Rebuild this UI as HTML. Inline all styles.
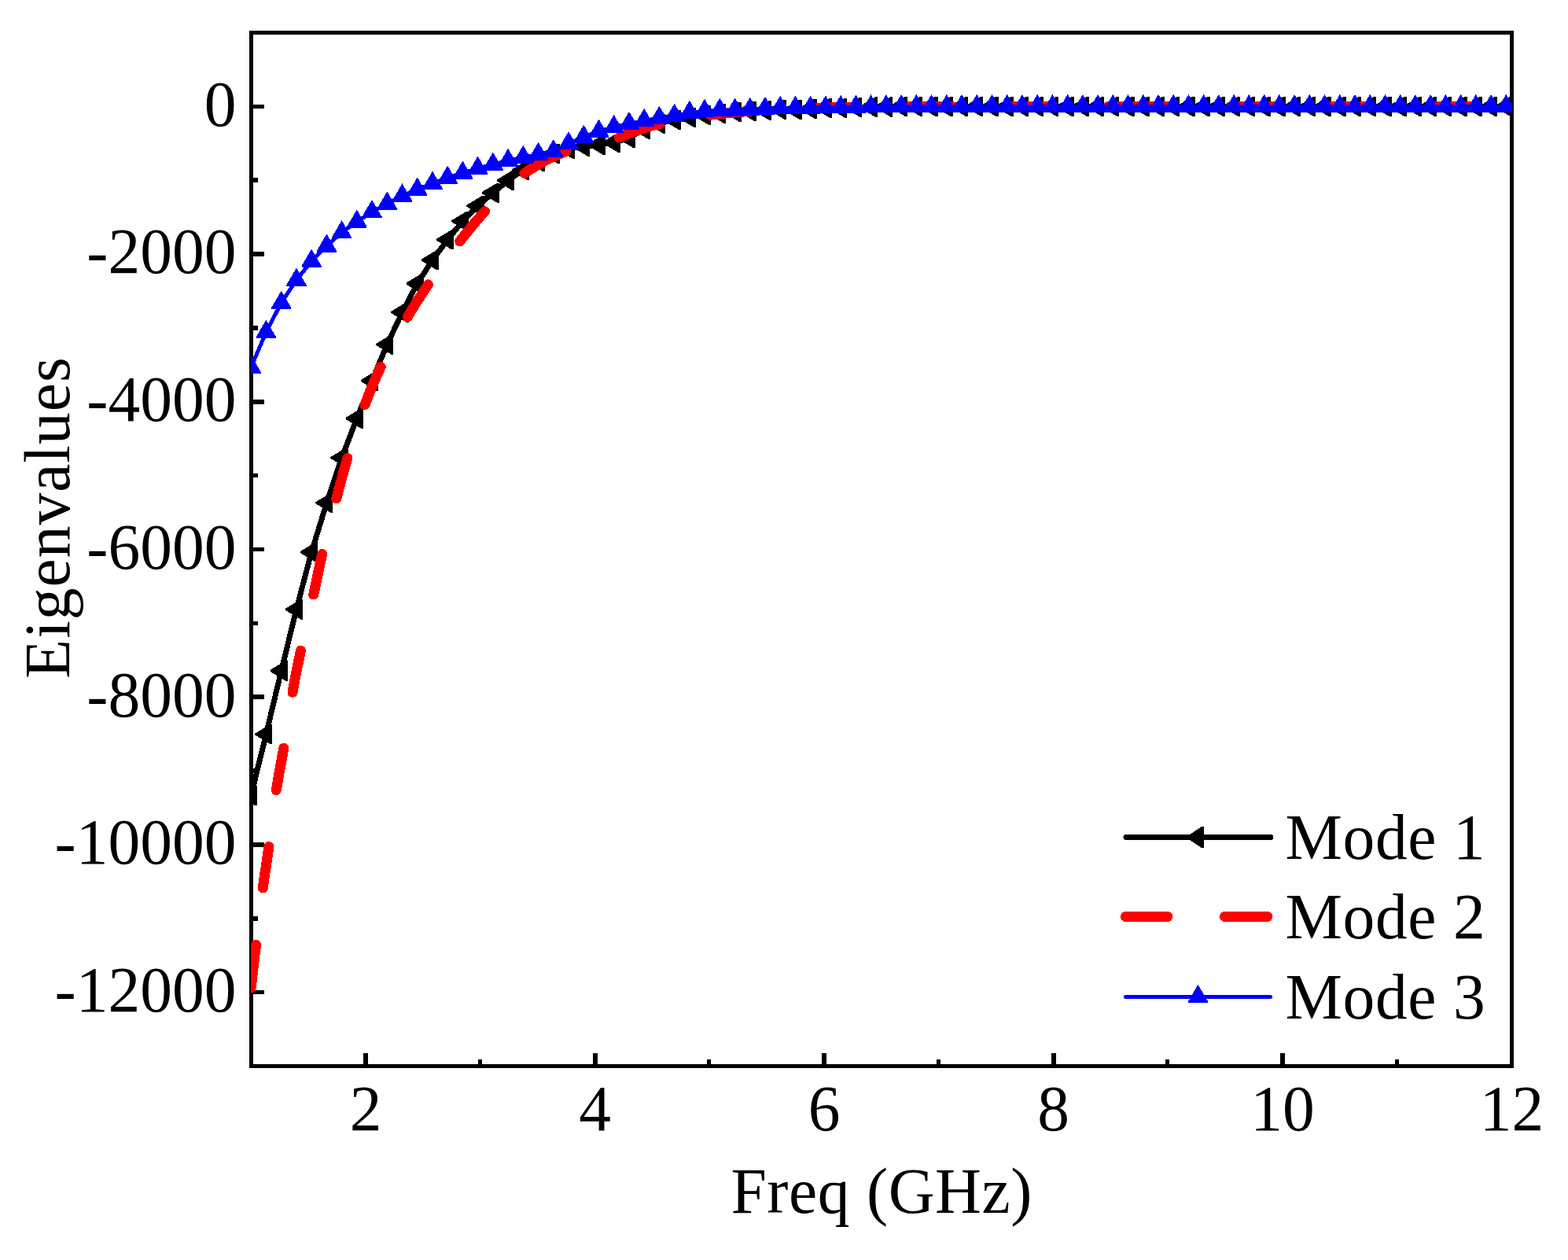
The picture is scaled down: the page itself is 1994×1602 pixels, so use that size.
<!DOCTYPE html>
<html lang="en"><head><meta charset="utf-8"><title>Eigenvalues vs Freq (GHz)</title>
<style>
html,body{margin:0;padding:0;background:#fff;}
body{width:1994px;height:1602px;overflow:hidden;}
svg{display:block;}
text{font-family:"Liberation Serif","Times New Roman",serif;font-size:81.5px;fill:#000;}
.sh{shape-rendering:crispEdges;}
</style></head><body>
<svg width="1994" height="1602" viewBox="0 0 1994 1602">
<rect width="1994" height="1602" fill="#fff"/>
<defs>
<clipPath id="cp"><rect x="319" y="39" width="1604" height="1319"/></clipPath>
</defs>

<g class="sh" fill="#000">
<rect x="317" y="39" width="1608" height="5"/><rect x="317" y="1353" width="1608" height="5"/>
<rect x="317" y="39" width="5" height="1319"/><rect x="1920" y="39" width="5" height="1319"/>
<rect x="322" y="132.61" width="14" height="5.5"/>
<rect x="322" y="320.32" width="14" height="5.5"/>
<rect x="322" y="508.04" width="14" height="5.5"/>
<rect x="322" y="695.75" width="14" height="5.5"/>
<rect x="322" y="883.46" width="14" height="5.5"/>
<rect x="322" y="1071.18" width="14" height="5.5"/>
<rect x="322" y="1258.89" width="14" height="5.5"/>
<rect x="322" y="226.46" width="6" height="5.5"/>
<rect x="322" y="414.18" width="6" height="5.5"/>
<rect x="322" y="601.89" width="6" height="5.5"/>
<rect x="322" y="789.61" width="6" height="5.5"/>
<rect x="322" y="977.32" width="6" height="5.5"/>
<rect x="322" y="1165.04" width="6" height="5.5"/>
<rect x="462" y="1339" width="6" height="14"/>
<rect x="754" y="1339" width="6" height="14"/>
<rect x="1045" y="1339" width="6" height="14"/>
<rect x="1337" y="1339" width="6" height="14"/>
<rect x="1628" y="1339" width="6" height="14"/>
<rect x="608" y="1347" width="5" height="6"/>
<rect x="899" y="1347" width="5" height="6"/>
<rect x="1191" y="1347" width="5" height="6"/>
<rect x="1482" y="1347" width="5" height="6"/>
<rect x="1774" y="1347" width="5" height="6"/>
</g>
<g text-anchor="end">
<text x="300.4" y="159.7">0</text>
<text x="300.4" y="347.4">-2000</text>
<text x="300.4" y="535.1">-4000</text>
<text x="300.4" y="722.8">-6000</text>
<text x="300.4" y="910.5">-8000</text>
<text x="300.4" y="1098.2">-10000</text>
<text x="300.4" y="1285.9">-12000</text>
</g>
<g text-anchor="middle">
<text x="465.2" y="1436.6">2</text>
<text x="756.7" y="1436.6">4</text>
<text x="1048.1" y="1436.6">6</text>
<text x="1339.6" y="1436.6">8</text>
<text x="1631.0" y="1436.6">10</text>
<text x="1922.5" y="1436.6">12</text>
<text x="1121.2" y="1541.9" letter-spacing="0.55">Freq (GHz)</text>
<text transform="translate(87.6,658.0) rotate(-90)" letter-spacing="1.0">Eigenvalues</text>
</g>
<g clip-path="url(#cp)" class="sh">
<polyline points="319.2,1011.7 338.4,933.5 357.7,852.8 376.9,774.8 396.1,702.0 415.4,639.3 434.6,582.0 453.8,532.0 473.0,484.0 492.3,438.0 511.5,397.0 530.7,360.6 550.0,330.6 569.2,304.7 588.4,281.2 607.6,261.7 626.9,245.2 646.1,229.4 665.3,216.2 684.6,205.1 703.8,195.2 723.0,189.2 742.3,186.2 761.5,184.0 780.7,181.2 800.0,175.3 819.2,164.3 838.4,157.2 857.6,152.2 876.9,149.2 896.1,146.2 915.3,144.2 934.6,142.2 953.8,141.2 973.0,140.2 992.2,139.2 1011.5,139.2 1030.7,138.2 1049.9,137.2 1069.2,137.2 1088.4,136.2 1107.6,136.0 1126.9,135.8 1146.1,135.4 1165.3,135.4 1184.5,135.4 1203.8,135.4 1223.0,135.4 1242.2,135.4 1261.5,135.4 1280.7,135.4 1299.9,135.4 1319.2,135.4 1338.4,135.4 1357.6,135.4 1376.9,135.4 1396.1,135.4 1415.3,135.4 1434.5,135.4 1453.8,135.4 1473.0,135.4 1492.2,135.4 1511.5,135.4 1530.7,135.4 1549.9,135.4 1569.2,135.4 1588.4,135.4 1607.6,135.4 1626.8,135.4 1646.1,135.4 1665.3,135.4 1684.5,135.4 1703.8,135.4 1723.0,135.4 1742.2,135.4 1761.5,135.4 1780.7,135.4 1799.9,135.4 1819.1,135.4 1838.4,135.4 1857.6,135.4 1876.8,135.4 1896.1,135.4 1915.3,135.4" fill="none" stroke="#000" stroke-width="7" stroke-linejoin="round" stroke-linecap="round"/>
<g fill="#000"><polygon points="305.0,1010.7 305.0,1012.7 324.5,1024.4 327.2,1024.4 327.2,999.0 324.5,999.0"/>
<polygon points="324.2,932.5 324.2,934.5 343.7,946.2 346.4,946.2 346.4,920.8 343.7,920.8"/>
<polygon points="343.5,851.8 343.5,853.8 363.0,865.5 365.7,865.5 365.7,840.1 363.0,840.1"/>
<polygon points="362.7,773.8 362.7,775.8 382.2,787.5 384.9,787.5 384.9,762.1 382.2,762.1"/>
<polygon points="381.9,701.0 381.9,703.0 401.4,714.7 404.1,714.7 404.1,689.3 401.4,689.3"/>
<polygon points="401.2,638.3 401.2,640.3 420.7,652.0 423.4,652.0 423.4,626.6 420.7,626.6"/>
<polygon points="420.4,581.0 420.4,583.0 439.9,594.7 442.6,594.7 442.6,569.3 439.9,569.3"/>
<polygon points="439.6,531.0 439.6,533.0 459.1,544.7 461.8,544.7 461.8,519.3 459.1,519.3"/>
<polygon points="458.8,483.0 458.8,485.0 478.3,496.7 481.0,496.7 481.0,471.3 478.3,471.3"/>
<polygon points="478.1,437.0 478.1,439.0 497.6,450.7 500.3,450.7 500.3,425.3 497.6,425.3"/>
<polygon points="497.3,396.0 497.3,398.0 516.8,409.7 519.5,409.7 519.5,384.3 516.8,384.3"/>
<polygon points="516.5,359.6 516.5,361.6 536.0,373.3 538.7,373.3 538.7,347.9 536.0,347.9"/>
<polygon points="535.8,329.6 535.8,331.6 555.3,343.3 558.0,343.3 558.0,317.9 555.3,317.9"/>
<polygon points="555.0,303.7 555.0,305.7 574.5,317.4 577.2,317.4 577.2,292.0 574.5,292.0"/>
<polygon points="574.2,280.2 574.2,282.2 593.7,293.9 596.4,293.9 596.4,268.5 593.7,268.5"/>
<polygon points="593.4,260.7 593.4,262.7 612.9,274.4 615.6,274.4 615.6,249.0 612.9,249.0"/>
<polygon points="612.7,244.2 612.7,246.2 632.2,257.9 634.9,257.9 634.9,232.5 632.2,232.5"/>
<polygon points="631.9,228.4 631.9,230.4 651.4,242.1 654.1,242.1 654.1,216.7 651.4,216.7"/>
<polygon points="651.1,215.2 651.1,217.2 670.6,228.9 673.3,228.9 673.3,203.5 670.6,203.5"/>
<polygon points="670.4,204.1 670.4,206.1 689.9,217.8 692.6,217.8 692.6,192.4 689.9,192.4"/>
<polygon points="689.6,194.2 689.6,196.2 709.1,207.9 711.8,207.9 711.8,182.5 709.1,182.5"/>
<polygon points="708.8,188.2 708.8,190.2 728.3,201.9 731.0,201.9 731.0,176.5 728.3,176.5"/>
<polygon points="728.1,185.2 728.1,187.2 747.6,198.9 750.3,198.9 750.3,173.5 747.6,173.5"/>
<polygon points="747.3,183.0 747.3,185.0 766.8,196.7 769.5,196.7 769.5,171.3 766.8,171.3"/>
<polygon points="766.5,180.2 766.5,182.2 786.0,193.9 788.7,193.9 788.7,168.5 786.0,168.5"/>
<polygon points="785.8,174.3 785.8,176.3 805.2,188.0 808.0,188.0 808.0,162.6 805.2,162.6"/>
<polygon points="805.0,163.3 805.0,165.3 824.5,177.0 827.2,177.0 827.2,151.6 824.5,151.6"/>
<polygon points="824.2,156.2 824.2,158.2 843.7,169.9 846.4,169.9 846.4,144.5 843.7,144.5"/>
<polygon points="843.4,151.2 843.4,153.2 862.9,164.9 865.6,164.9 865.6,139.5 862.9,139.5"/>
<polygon points="862.7,148.2 862.7,150.2 882.2,161.9 884.9,161.9 884.9,136.5 882.2,136.5"/>
<polygon points="881.9,145.2 881.9,147.2 901.4,158.9 904.1,158.9 904.1,133.5 901.4,133.5"/>
<polygon points="901.1,143.2 901.1,145.2 920.6,156.9 923.3,156.9 923.3,131.5 920.6,131.5"/>
<polygon points="920.4,141.2 920.4,143.2 939.9,154.9 942.6,154.9 942.6,129.5 939.9,129.5"/>
<polygon points="939.6,140.2 939.6,142.2 959.1,153.9 961.8,153.9 961.8,128.5 959.1,128.5"/>
<polygon points="958.8,139.2 958.8,141.2 978.3,152.9 981.0,152.9 981.0,127.5 978.3,127.5"/>
<polygon points="978.0,138.2 978.0,140.2 997.5,151.9 1000.2,151.9 1000.2,126.5 997.5,126.5"/>
<polygon points="997.3,138.2 997.3,140.2 1016.8,151.9 1019.5,151.9 1019.5,126.5 1016.8,126.5"/>
<polygon points="1016.5,137.2 1016.5,139.2 1036.0,150.9 1038.7,150.9 1038.7,125.5 1036.0,125.5"/>
<polygon points="1035.7,136.2 1035.7,138.2 1055.2,149.9 1057.9,149.9 1057.9,124.5 1055.2,124.5"/>
<polygon points="1055.0,136.2 1055.0,138.2 1074.5,149.9 1077.2,149.9 1077.2,124.5 1074.5,124.5"/>
<polygon points="1074.2,135.2 1074.2,137.2 1093.7,148.9 1096.4,148.9 1096.4,123.5 1093.7,123.5"/>
<polygon points="1093.4,135.0 1093.4,137.0 1112.9,148.7 1115.6,148.7 1115.6,123.3 1112.9,123.3"/>
<polygon points="1112.7,134.8 1112.7,136.8 1132.2,148.5 1134.9,148.5 1134.9,123.1 1132.2,123.1"/>
<polygon points="1131.9,134.4 1131.9,136.4 1151.4,148.1 1154.1,148.1 1154.1,122.7 1151.4,122.7"/>
<polygon points="1151.1,134.4 1151.1,136.4 1170.6,148.1 1173.3,148.1 1173.3,122.7 1170.6,122.7"/>
<polygon points="1170.3,134.4 1170.3,136.4 1189.8,148.1 1192.5,148.1 1192.5,122.7 1189.8,122.7"/>
<polygon points="1189.6,134.4 1189.6,136.4 1209.1,148.1 1211.8,148.1 1211.8,122.7 1209.1,122.7"/>
<polygon points="1208.8,134.4 1208.8,136.4 1228.3,148.1 1231.0,148.1 1231.0,122.7 1228.3,122.7"/>
<polygon points="1228.0,134.4 1228.0,136.4 1247.5,148.1 1250.2,148.1 1250.2,122.7 1247.5,122.7"/>
<polygon points="1247.3,134.4 1247.3,136.4 1266.8,148.1 1269.5,148.1 1269.5,122.7 1266.8,122.7"/>
<polygon points="1266.5,134.4 1266.5,136.4 1286.0,148.1 1288.7,148.1 1288.7,122.7 1286.0,122.7"/>
<polygon points="1285.7,134.4 1285.7,136.4 1305.2,148.1 1307.9,148.1 1307.9,122.7 1305.2,122.7"/>
<polygon points="1305.0,134.4 1305.0,136.4 1324.5,148.1 1327.2,148.1 1327.2,122.7 1324.5,122.7"/>
<polygon points="1324.2,134.4 1324.2,136.4 1343.7,148.1 1346.4,148.1 1346.4,122.7 1343.7,122.7"/>
<polygon points="1343.4,134.4 1343.4,136.4 1362.9,148.1 1365.6,148.1 1365.6,122.7 1362.9,122.7"/>
<polygon points="1362.7,134.4 1362.7,136.4 1382.2,148.1 1384.9,148.1 1384.9,122.7 1382.2,122.7"/>
<polygon points="1381.9,134.4 1381.9,136.4 1401.4,148.1 1404.1,148.1 1404.1,122.7 1401.4,122.7"/>
<polygon points="1401.1,134.4 1401.1,136.4 1420.6,148.1 1423.3,148.1 1423.3,122.7 1420.6,122.7"/>
<polygon points="1420.3,134.4 1420.3,136.4 1439.8,148.1 1442.5,148.1 1442.5,122.7 1439.8,122.7"/>
<polygon points="1439.6,134.4 1439.6,136.4 1459.1,148.1 1461.8,148.1 1461.8,122.7 1459.1,122.7"/>
<polygon points="1458.8,134.4 1458.8,136.4 1478.3,148.1 1481.0,148.1 1481.0,122.7 1478.3,122.7"/>
<polygon points="1478.0,134.4 1478.0,136.4 1497.5,148.1 1500.2,148.1 1500.2,122.7 1497.5,122.7"/>
<polygon points="1497.3,134.4 1497.3,136.4 1516.8,148.1 1519.5,148.1 1519.5,122.7 1516.8,122.7"/>
<polygon points="1516.5,134.4 1516.5,136.4 1536.0,148.1 1538.7,148.1 1538.7,122.7 1536.0,122.7"/>
<polygon points="1535.7,134.4 1535.7,136.4 1555.2,148.1 1557.9,148.1 1557.9,122.7 1555.2,122.7"/>
<polygon points="1555.0,134.4 1555.0,136.4 1574.5,148.1 1577.2,148.1 1577.2,122.7 1574.5,122.7"/>
<polygon points="1574.2,134.4 1574.2,136.4 1593.7,148.1 1596.4,148.1 1596.4,122.7 1593.7,122.7"/>
<polygon points="1593.4,134.4 1593.4,136.4 1612.9,148.1 1615.6,148.1 1615.6,122.7 1612.9,122.7"/>
<polygon points="1612.6,134.4 1612.6,136.4 1632.1,148.1 1634.8,148.1 1634.8,122.7 1632.1,122.7"/>
<polygon points="1631.9,134.4 1631.9,136.4 1651.4,148.1 1654.1,148.1 1654.1,122.7 1651.4,122.7"/>
<polygon points="1651.1,134.4 1651.1,136.4 1670.6,148.1 1673.3,148.1 1673.3,122.7 1670.6,122.7"/>
<polygon points="1670.3,134.4 1670.3,136.4 1689.8,148.1 1692.5,148.1 1692.5,122.7 1689.8,122.7"/>
<polygon points="1689.6,134.4 1689.6,136.4 1709.1,148.1 1711.8,148.1 1711.8,122.7 1709.1,122.7"/>
<polygon points="1708.8,134.4 1708.8,136.4 1728.3,148.1 1731.0,148.1 1731.0,122.7 1728.3,122.7"/>
<polygon points="1728.0,134.4 1728.0,136.4 1747.5,148.1 1750.2,148.1 1750.2,122.7 1747.5,122.7"/>
<polygon points="1747.2,134.4 1747.2,136.4 1766.8,148.1 1769.5,148.1 1769.5,122.7 1766.8,122.7"/>
<polygon points="1766.5,134.4 1766.5,136.4 1786.0,148.1 1788.7,148.1 1788.7,122.7 1786.0,122.7"/>
<polygon points="1785.7,134.4 1785.7,136.4 1805.2,148.1 1807.9,148.1 1807.9,122.7 1805.2,122.7"/>
<polygon points="1804.9,134.4 1804.9,136.4 1824.4,148.1 1827.1,148.1 1827.1,122.7 1824.4,122.7"/>
<polygon points="1824.2,134.4 1824.2,136.4 1843.7,148.1 1846.4,148.1 1846.4,122.7 1843.7,122.7"/>
<polygon points="1843.4,134.4 1843.4,136.4 1862.9,148.1 1865.6,148.1 1865.6,122.7 1862.9,122.7"/>
<polygon points="1862.6,134.4 1862.6,136.4 1882.1,148.1 1884.8,148.1 1884.8,122.7 1882.1,122.7"/>
<polygon points="1881.9,134.4 1881.9,136.4 1901.4,148.1 1904.1,148.1 1904.1,122.7 1901.4,122.7"/>
<polygon points="1901.1,134.4 1901.1,136.4 1920.6,148.1 1923.3,148.1 1923.3,122.7 1920.6,122.7"/></g>
<path d="M319.2,1255.5 L320.5,1244.5 L321.7,1233.6 L323.0,1222.8 L324.2,1212.0 L325.5,1201.4 M334.3,1129.0 L335.6,1119.8 L336.8,1111.0 L338.1,1102.5 L339.4,1094.0 L340.6,1085.4 L341.9,1076.4 M351.3,1004.5 L352.7,996.1 L354.0,988.2 L355.4,980.8 L356.7,973.6 L358.1,966.3 L359.4,958.9 L360.8,951.1 M372.0,880.2 L373.3,873.0 L374.6,866.0 L375.9,859.2 L377.2,852.5 L378.6,846.1 L379.9,839.7 L381.2,833.4 L382.5,827.2 M398.7,756.0 L400.1,749.7 L401.4,743.2 L402.8,736.6 L404.2,730.0 L405.6,723.4 L406.9,716.9 L408.3,710.7 L409.7,704.6 M427.7,633.9 L429.1,628.6 L430.5,623.2 L432.0,617.9 L433.4,612.7 L434.8,607.4 L436.2,602.3 L437.6,597.2 L439.1,592.2 L440.5,587.3 L441.9,582.5 M464.1,514.5 L465.5,510.7 L467.0,506.9 L468.4,503.2 L469.8,499.6 L471.3,496.0 L472.7,492.5 L474.1,489.0 L475.6,485.6 L477.0,482.3 L478.5,479.0 L479.9,475.8 L481.3,472.6 L482.8,469.5 L484.2,466.4 M518.4,402.8 L519.8,400.4 L521.3,397.9 L522.7,395.5 L524.2,393.2 L525.6,390.8 L527.1,388.5 L528.5,386.2 L530.0,383.9 L531.4,381.6 L532.8,379.4 L534.3,377.1 L535.7,374.9 L537.2,372.7 L538.6,370.5 L540.1,368.3 L541.5,366.2 L543.0,364.0 L544.4,361.9 M584.7,306.9 L586.2,305.1 L587.6,303.2 L589.1,301.4 L590.5,299.6 L592.0,297.7 L593.4,295.9 L594.9,294.1 L596.3,292.3 L597.8,290.5 L599.2,288.8 L600.7,287.0 L602.1,285.3 L603.6,283.5 L605.0,281.8 L606.5,280.1 L607.9,278.4 L609.4,276.8 L610.8,275.1 L612.2,273.5 L613.7,271.9 L615.1,270.3 L616.6,268.7 M666.9,220.3 L668.4,219.3 L669.9,218.3 L671.3,217.3 L672.8,216.4 L674.3,215.4 L675.8,214.5 L677.2,213.6 L678.7,212.7 L680.2,211.8 L681.6,210.9 L683.1,210.0 L684.6,209.1 L686.1,208.3 L687.5,207.5 L689.0,206.6 L690.5,205.8 L692.0,205.0 L693.5,204.2 L694.9,203.5 L696.4,202.7 L697.9,202.0 L699.4,201.2 L700.8,200.5 L702.3,199.8 L703.8,199.1 L705.2,198.5 L706.7,197.8 L708.2,197.2 L709.7,196.5 L711.1,195.9 L712.6,195.3 L714.1,194.7 L715.6,194.1 L717.0,193.6 L718.5,193.0 L720.0,192.5 M787.4,174.7 L788.9,174.2 L790.3,173.6 L791.8,173.0 L793.2,172.3 L794.7,171.7 L796.2,171.1 L797.6,170.4 L799.1,169.8 L800.5,169.3 L802.0,168.8 L803.5,168.2 L804.9,167.7 L806.4,167.2 L807.9,166.7 L809.3,166.2 L810.8,165.7 L812.2,165.2 L813.7,164.7 L815.2,164.2 L816.6,163.7 L818.1,163.2 L819.5,162.7 L821.0,162.3 L822.5,161.8 L823.9,161.3 L825.4,160.9 L826.9,160.5 L828.3,160.0 L829.8,159.6 L831.2,159.2 L832.7,158.8 L834.2,158.4 L835.6,158.1 L837.1,157.7 L838.5,157.3 L840.0,157.0 M903.0,146.1 L904.5,146.0 L906.0,145.8 L907.5,145.6 L908.9,145.5 L910.4,145.3 L911.9,145.1 L913.4,145.0 L914.9,144.8 L916.4,144.6 L917.9,144.5 L919.3,144.3 L920.8,144.2 L922.3,144.0 L923.8,143.9 L925.3,143.7 L926.8,143.6 L928.3,143.5 L929.7,143.3 L931.2,143.2 L932.7,143.1 L934.2,142.9 L935.7,142.8 L937.2,142.7 L938.7,142.5 L940.1,142.4 L941.6,142.3 L943.1,142.2 L944.6,142.1 L946.1,141.9 L947.6,141.8 L949.1,141.7 L950.5,141.6 L952.0,141.5 L953.5,141.4 L955.0,141.3 M1031.0,137.8 L1032.5,137.7 L1034.0,137.7 L1035.5,137.6 L1036.9,137.6 L1038.4,137.5 L1039.9,137.5 L1041.4,137.5 L1042.9,137.4 L1044.4,137.4 L1045.9,137.3 L1047.3,137.3 L1048.8,137.2 L1050.3,137.2 L1051.8,137.1 L1053.3,137.1 L1054.8,137.0 L1056.3,137.0 L1057.8,136.9 L1059.2,136.9 L1060.7,136.9 L1062.2,136.8 L1063.7,136.8 L1065.2,136.7 L1066.7,136.7 L1068.2,136.6 L1069.6,136.6 L1071.1,136.6 L1072.6,136.5 L1074.1,136.5 L1075.6,136.4 L1077.1,136.4 L1078.6,136.4 L1080.0,136.3 L1081.5,136.3 L1083.0,136.3 L1084.5,136.2 M1157.0,135.5 L1158.5,135.5 L1160.0,135.5 L1161.5,135.5 L1162.9,135.5 L1164.4,135.5 L1165.9,135.5 L1167.4,135.5 L1168.9,135.5 L1170.4,135.5 L1171.9,135.5 L1173.3,135.5 L1174.8,135.4 L1176.3,135.4 L1177.8,135.4 L1179.3,135.4 L1180.8,135.4 L1182.3,135.4 L1183.8,135.4 L1185.2,135.4 L1186.7,135.4 L1188.2,135.4 L1189.7,135.4 L1191.2,135.4 L1192.7,135.4 L1194.2,135.4 L1195.6,135.4 L1197.1,135.4 L1198.6,135.4 L1200.1,135.4 L1201.6,135.4 L1203.1,135.4 L1204.6,135.4 L1206.0,135.4 L1207.5,135.4 L1209.0,135.4 L1210.5,135.4 M1283.0,135.4 L1284.5,135.4 L1286.0,135.4 L1287.5,135.4 L1288.9,135.4 L1290.4,135.4 L1291.9,135.4 L1293.4,135.4 L1294.9,135.4 L1296.4,135.4 L1297.9,135.4 L1299.3,135.4 L1300.8,135.4 L1302.3,135.4 L1303.8,135.4 L1305.3,135.4 L1306.8,135.4 L1308.3,135.4 L1309.8,135.4 L1311.2,135.4 L1312.7,135.4 L1314.2,135.4 L1315.7,135.4 L1317.2,135.4 L1318.7,135.4 L1320.2,135.4 L1321.6,135.4 L1323.1,135.4 L1324.6,135.4 L1326.1,135.4 L1327.6,135.4 L1329.1,135.4 L1330.6,135.4 L1332.0,135.4 L1333.5,135.4 L1335.0,135.4 L1336.5,135.4 M1409.5,135.4 L1411.0,135.4 L1412.4,135.4 L1413.9,135.4 L1415.4,135.4 L1416.9,135.4 L1418.3,135.4 L1419.8,135.4 L1421.3,135.4 L1422.7,135.4 L1424.2,135.4 L1425.7,135.4 L1427.2,135.4 L1428.6,135.4 L1430.1,135.4 L1431.6,135.4 L1433.0,135.4 L1434.5,135.4 L1436.0,135.4 L1437.5,135.4 L1438.9,135.4 L1440.4,135.4 L1441.9,135.4 L1443.3,135.4 L1444.8,135.4 L1446.3,135.4 L1447.8,135.4 L1449.2,135.4 L1450.7,135.4 L1452.2,135.4 L1453.6,135.4 L1455.1,135.4 L1456.6,135.4 L1458.0,135.4 L1459.5,135.4 L1461.0,135.4 L1462.5,135.4 L1463.9,135.4 L1465.4,135.4 L1466.9,135.4 L1468.3,135.4 L1469.8,135.4 L1471.3,135.4 L1472.8,135.4 L1474.2,135.4 L1475.7,135.4 L1477.2,135.4 L1478.6,135.4 L1480.1,135.4 L1481.6,135.4 L1483.1,135.4 L1484.5,135.4 L1486.0,135.4 M1566.0,135.4 L1567.5,135.4 L1569.0,135.4 L1570.5,135.4 L1571.9,135.4 L1573.4,135.4 L1574.9,135.4 L1576.4,135.4 L1577.9,135.4 L1579.4,135.4 L1580.9,135.4 L1582.4,135.4 L1583.8,135.4 L1585.3,135.4 L1586.8,135.4 L1588.3,135.4 L1589.8,135.4 L1591.3,135.4 L1592.8,135.4 L1594.2,135.4 L1595.7,135.4 L1597.2,135.4 L1598.7,135.4 L1600.2,135.4 L1601.7,135.4 L1603.2,135.4 L1604.6,135.4 L1606.1,135.4 L1607.6,135.4 L1609.1,135.4 L1610.6,135.4 L1612.1,135.4 L1613.6,135.4 L1615.1,135.4 L1616.5,135.4 L1618.0,135.4 L1619.5,135.4 L1621.0,135.4 M1690.0,135.4 L1691.5,135.4 L1692.9,135.4 L1694.4,135.4 L1695.9,135.4 L1697.3,135.4 L1698.8,135.4 L1700.3,135.4 L1701.8,135.4 L1703.2,135.4 L1704.7,135.4 L1706.2,135.4 L1707.6,135.4 L1709.1,135.4 L1710.6,135.4 L1712.0,135.4 L1713.5,135.4 L1715.0,135.4 L1716.4,135.4 L1717.9,135.4 L1719.4,135.4 L1720.8,135.4 L1722.3,135.4 L1723.8,135.4 L1725.2,135.4 L1726.7,135.4 L1728.2,135.4 L1729.7,135.4 L1731.1,135.4 L1732.6,135.4 L1734.1,135.4 L1735.5,135.4 L1737.0,135.4 M1825.0,135.4 L1826.5,135.4 L1828.0,135.4 L1829.5,135.4 L1830.9,135.4 L1832.4,135.4 L1833.9,135.4 L1835.4,135.4 L1836.9,135.4 L1838.4,135.4 L1839.8,135.4 L1841.3,135.4 L1842.8,135.4 L1844.3,135.4 L1845.8,135.4 L1847.3,135.4 L1848.7,135.4 L1850.2,135.4 L1851.7,135.4 L1853.2,135.4 L1854.7,135.4 L1856.2,135.4 L1857.6,135.4 L1859.1,135.4 L1860.6,135.4 L1862.1,135.4 L1863.6,135.4 L1865.1,135.4 L1866.5,135.4 L1868.0,135.4 L1869.5,135.4 L1871.0,135.4" fill="none" stroke="#f00" stroke-width="13" stroke-linejoin="round" stroke-linecap="round"/>
<polyline points="319.2,467.0 338.4,422.2 357.7,385.2 376.9,356.1 396.1,332.1 415.4,312.9 434.6,295.7 453.8,282.0 473.0,269.5 492.3,258.9 511.5,248.9 530.7,240.9 550.0,233.1 569.2,226.0 588.4,220.0 607.6,214.0 626.9,209.0 646.1,204.2 665.3,200.2 684.6,196.2 703.8,192.6 723.0,182.6 742.3,174.1 761.5,167.1 780.7,161.5 800.0,157.3 819.2,153.3 838.4,150.2 857.6,147.2 876.9,143.2 896.1,141.2 915.3,140.2 934.6,140.0 953.8,139.2 973.0,138.2 992.2,137.3 1011.5,137.2 1030.7,137.0 1049.9,136.8 1069.2,136.3 1088.4,136.0 1107.6,135.8 1126.9,135.6 1146.1,135.4 1165.3,135.4 1184.5,135.4 1203.8,135.4 1223.0,135.4 1242.2,135.4 1261.5,135.4 1280.7,135.4 1299.9,135.4 1319.2,135.4 1338.4,135.4 1357.6,135.4 1376.9,135.4 1396.1,135.4 1415.3,135.4 1434.5,135.4 1453.8,135.4 1473.0,135.4 1492.2,135.4 1511.5,135.4 1530.7,135.4 1549.9,135.4 1569.2,135.4 1588.4,135.4 1607.6,135.4 1626.8,135.4 1646.1,135.4 1665.3,135.4 1684.5,135.4 1703.8,135.4 1723.0,135.4 1742.2,135.4 1761.5,135.4 1780.7,135.4 1799.9,135.4 1819.1,135.4 1838.4,135.4 1857.6,135.4 1876.8,135.4 1896.1,135.4 1915.3,135.4" fill="none" stroke="#00f" stroke-width="5" stroke-linejoin="round" stroke-linecap="round"/>
<g fill="#00f"><polygon points="319.2,451.5 331.8,473.0 331.8,474.6 306.6,474.6 306.6,473.0"/>
<polygon points="338.4,406.7 351.0,428.2 351.0,429.8 325.8,429.8 325.8,428.2"/>
<polygon points="357.7,369.7 370.3,391.2 370.3,392.8 345.1,392.8 345.1,391.2"/>
<polygon points="376.9,340.6 389.5,362.1 389.5,363.7 364.3,363.7 364.3,362.1"/>
<polygon points="396.1,316.6 408.7,338.1 408.7,339.7 383.5,339.7 383.5,338.1"/>
<polygon points="415.4,297.4 428.0,318.9 428.0,320.5 402.8,320.5 402.8,318.9"/>
<polygon points="434.6,280.2 447.2,301.7 447.2,303.3 422.0,303.3 422.0,301.7"/>
<polygon points="453.8,266.5 466.4,288.0 466.4,289.6 441.2,289.6 441.2,288.0"/>
<polygon points="473.0,254.0 485.6,275.5 485.6,277.1 460.4,277.1 460.4,275.5"/>
<polygon points="492.3,243.4 504.9,264.9 504.9,266.5 479.7,266.5 479.7,264.9"/>
<polygon points="511.5,233.4 524.1,254.9 524.1,256.5 498.9,256.5 498.9,254.9"/>
<polygon points="530.7,225.4 543.3,246.9 543.3,248.5 518.1,248.5 518.1,246.9"/>
<polygon points="550.0,217.6 562.6,239.1 562.6,240.7 537.4,240.7 537.4,239.1"/>
<polygon points="569.2,210.5 581.8,232.0 581.8,233.6 556.6,233.6 556.6,232.0"/>
<polygon points="588.4,204.5 601.0,226.0 601.0,227.6 575.8,227.6 575.8,226.0"/>
<polygon points="607.6,198.5 620.2,220.0 620.2,221.6 595.0,221.6 595.0,220.0"/>
<polygon points="626.9,193.5 639.5,215.0 639.5,216.6 614.3,216.6 614.3,215.0"/>
<polygon points="646.1,188.7 658.7,210.2 658.7,211.8 633.5,211.8 633.5,210.2"/>
<polygon points="665.3,184.7 677.9,206.2 677.9,207.8 652.7,207.8 652.7,206.2"/>
<polygon points="684.6,180.7 697.2,202.2 697.2,203.8 672.0,203.8 672.0,202.2"/>
<polygon points="703.8,177.1 716.4,198.6 716.4,200.2 691.2,200.2 691.2,198.6"/>
<polygon points="723.0,167.1 735.6,188.6 735.6,190.2 710.4,190.2 710.4,188.6"/>
<polygon points="742.3,158.6 754.9,180.1 754.9,181.7 729.7,181.7 729.7,180.1"/>
<polygon points="761.5,151.6 774.1,173.1 774.1,174.7 748.9,174.7 748.9,173.1"/>
<polygon points="780.7,146.0 793.3,167.5 793.3,169.1 768.1,169.1 768.1,167.5"/>
<polygon points="800.0,141.8 812.6,163.3 812.6,164.9 787.4,164.9 787.4,163.3"/>
<polygon points="819.2,137.8 831.8,159.3 831.8,160.9 806.6,160.9 806.6,159.3"/>
<polygon points="838.4,134.7 851.0,156.2 851.0,157.8 825.8,157.8 825.8,156.2"/>
<polygon points="857.6,131.7 870.2,153.2 870.2,154.8 845.0,154.8 845.0,153.2"/>
<polygon points="876.9,127.7 889.5,149.2 889.5,150.8 864.3,150.8 864.3,149.2"/>
<polygon points="896.1,125.7 908.7,147.2 908.7,148.8 883.5,148.8 883.5,147.2"/>
<polygon points="915.3,124.7 927.9,146.2 927.9,147.8 902.7,147.8 902.7,146.2"/>
<polygon points="934.6,124.5 947.2,146.0 947.2,147.6 922.0,147.6 922.0,146.0"/>
<polygon points="953.8,123.7 966.4,145.2 966.4,146.8 941.2,146.8 941.2,145.2"/>
<polygon points="973.0,122.7 985.6,144.2 985.6,145.8 960.4,145.8 960.4,144.2"/>
<polygon points="992.2,121.8 1004.9,143.3 1004.9,144.9 979.6,144.9 979.6,143.3"/>
<polygon points="1011.5,121.7 1024.1,143.2 1024.1,144.8 998.9,144.8 998.9,143.2"/>
<polygon points="1030.7,121.5 1043.3,143.0 1043.3,144.6 1018.1,144.6 1018.1,143.0"/>
<polygon points="1049.9,121.3 1062.5,142.8 1062.5,144.4 1037.3,144.4 1037.3,142.8"/>
<polygon points="1069.2,120.8 1081.8,142.3 1081.8,143.9 1056.6,143.9 1056.6,142.3"/>
<polygon points="1088.4,120.5 1101.0,142.0 1101.0,143.6 1075.8,143.6 1075.8,142.0"/>
<polygon points="1107.6,120.3 1120.2,141.8 1120.2,143.4 1095.0,143.4 1095.0,141.8"/>
<polygon points="1126.9,120.1 1139.5,141.6 1139.5,143.2 1114.3,143.2 1114.3,141.6"/>
<polygon points="1146.1,119.9 1158.7,141.4 1158.7,143.0 1133.5,143.0 1133.5,141.4"/>
<polygon points="1165.3,119.9 1177.9,141.4 1177.9,143.0 1152.7,143.0 1152.7,141.4"/>
<polygon points="1184.5,119.9 1197.1,141.4 1197.1,143.0 1172.0,143.0 1172.0,141.4"/>
<polygon points="1203.8,119.9 1216.4,141.4 1216.4,143.0 1191.2,143.0 1191.2,141.4"/>
<polygon points="1223.0,119.9 1235.6,141.4 1235.6,143.0 1210.4,143.0 1210.4,141.4"/>
<polygon points="1242.2,119.9 1254.8,141.4 1254.8,143.0 1229.6,143.0 1229.6,141.4"/>
<polygon points="1261.5,119.9 1274.1,141.4 1274.1,143.0 1248.9,143.0 1248.9,141.4"/>
<polygon points="1280.7,119.9 1293.3,141.4 1293.3,143.0 1268.1,143.0 1268.1,141.4"/>
<polygon points="1299.9,119.9 1312.5,141.4 1312.5,143.0 1287.3,143.0 1287.3,141.4"/>
<polygon points="1319.2,119.9 1331.8,141.4 1331.8,143.0 1306.6,143.0 1306.6,141.4"/>
<polygon points="1338.4,119.9 1351.0,141.4 1351.0,143.0 1325.8,143.0 1325.8,141.4"/>
<polygon points="1357.6,119.9 1370.2,141.4 1370.2,143.0 1345.0,143.0 1345.0,141.4"/>
<polygon points="1376.9,119.9 1389.5,141.4 1389.5,143.0 1364.3,143.0 1364.3,141.4"/>
<polygon points="1396.1,119.9 1408.7,141.4 1408.7,143.0 1383.5,143.0 1383.5,141.4"/>
<polygon points="1415.3,119.9 1427.9,141.4 1427.9,143.0 1402.7,143.0 1402.7,141.4"/>
<polygon points="1434.5,119.9 1447.1,141.4 1447.1,143.0 1421.9,143.0 1421.9,141.4"/>
<polygon points="1453.8,119.9 1466.4,141.4 1466.4,143.0 1441.2,143.0 1441.2,141.4"/>
<polygon points="1473.0,119.9 1485.6,141.4 1485.6,143.0 1460.4,143.0 1460.4,141.4"/>
<polygon points="1492.2,119.9 1504.8,141.4 1504.8,143.0 1479.6,143.0 1479.6,141.4"/>
<polygon points="1511.5,119.9 1524.1,141.4 1524.1,143.0 1498.9,143.0 1498.9,141.4"/>
<polygon points="1530.7,119.9 1543.3,141.4 1543.3,143.0 1518.1,143.0 1518.1,141.4"/>
<polygon points="1549.9,119.9 1562.5,141.4 1562.5,143.0 1537.3,143.0 1537.3,141.4"/>
<polygon points="1569.2,119.9 1581.8,141.4 1581.8,143.0 1556.6,143.0 1556.6,141.4"/>
<polygon points="1588.4,119.9 1601.0,141.4 1601.0,143.0 1575.8,143.0 1575.8,141.4"/>
<polygon points="1607.6,119.9 1620.2,141.4 1620.2,143.0 1595.0,143.0 1595.0,141.4"/>
<polygon points="1626.8,119.9 1639.4,141.4 1639.4,143.0 1614.2,143.0 1614.2,141.4"/>
<polygon points="1646.1,119.9 1658.7,141.4 1658.7,143.0 1633.5,143.0 1633.5,141.4"/>
<polygon points="1665.3,119.9 1677.9,141.4 1677.9,143.0 1652.7,143.0 1652.7,141.4"/>
<polygon points="1684.5,119.9 1697.1,141.4 1697.1,143.0 1671.9,143.0 1671.9,141.4"/>
<polygon points="1703.8,119.9 1716.4,141.4 1716.4,143.0 1691.2,143.0 1691.2,141.4"/>
<polygon points="1723.0,119.9 1735.6,141.4 1735.6,143.0 1710.4,143.0 1710.4,141.4"/>
<polygon points="1742.2,119.9 1754.8,141.4 1754.8,143.0 1729.6,143.0 1729.6,141.4"/>
<polygon points="1761.5,119.9 1774.0,141.4 1774.0,143.0 1748.9,143.0 1748.9,141.4"/>
<polygon points="1780.7,119.9 1793.3,141.4 1793.3,143.0 1768.1,143.0 1768.1,141.4"/>
<polygon points="1799.9,119.9 1812.5,141.4 1812.5,143.0 1787.3,143.0 1787.3,141.4"/>
<polygon points="1819.1,119.9 1831.7,141.4 1831.7,143.0 1806.5,143.0 1806.5,141.4"/>
<polygon points="1838.4,119.9 1851.0,141.4 1851.0,143.0 1825.8,143.0 1825.8,141.4"/>
<polygon points="1857.6,119.9 1870.2,141.4 1870.2,143.0 1845.0,143.0 1845.0,141.4"/>
<polygon points="1876.8,119.9 1889.4,141.4 1889.4,143.0 1864.2,143.0 1864.2,141.4"/>
<polygon points="1896.1,119.9 1908.7,141.4 1908.7,143.0 1883.5,143.0 1883.5,141.4"/>
<polygon points="1915.3,119.9 1927.9,141.4 1927.9,143.0 1902.7,143.0 1902.7,141.4"/></g>
</g>
<g class="sh">
<line x1="1432" y1="1064.5" x2="1616" y2="1064.5" stroke="#000" stroke-width="7" stroke-linecap="round"/>
<g fill="#000"><polygon points="1509.5,1063.5 1509.5,1065.5 1528.0,1078.0 1531.0,1078.0 1531.0,1051.0 1528.0,1051.0"/></g>
<path d="M1431.4,1165.4 H1484.8 M1557.4,1165.4 H1611.8" fill="none" stroke="#f00" stroke-width="13" stroke-linecap="round"/>
<line x1="1431.5" y1="1267.5" x2="1615.5" y2="1267.5" stroke="#00f" stroke-width="5" stroke-linecap="round"/>
<g fill="#00f"><polygon points="1523.5,1251.8 1536.1,1273.3 1536.1,1274.9 1510.9,1274.9 1510.9,1273.3"/></g>
</g>
<g>
<text x="1634.5" y="1091.6" letter-spacing="0.6">Mode 1</text>
<text x="1634.5" y="1193.3" letter-spacing="0.6">Mode 2</text>
<text x="1634.5" y="1294.8" letter-spacing="0.6">Mode 3</text>
</g>
</svg></body></html>
